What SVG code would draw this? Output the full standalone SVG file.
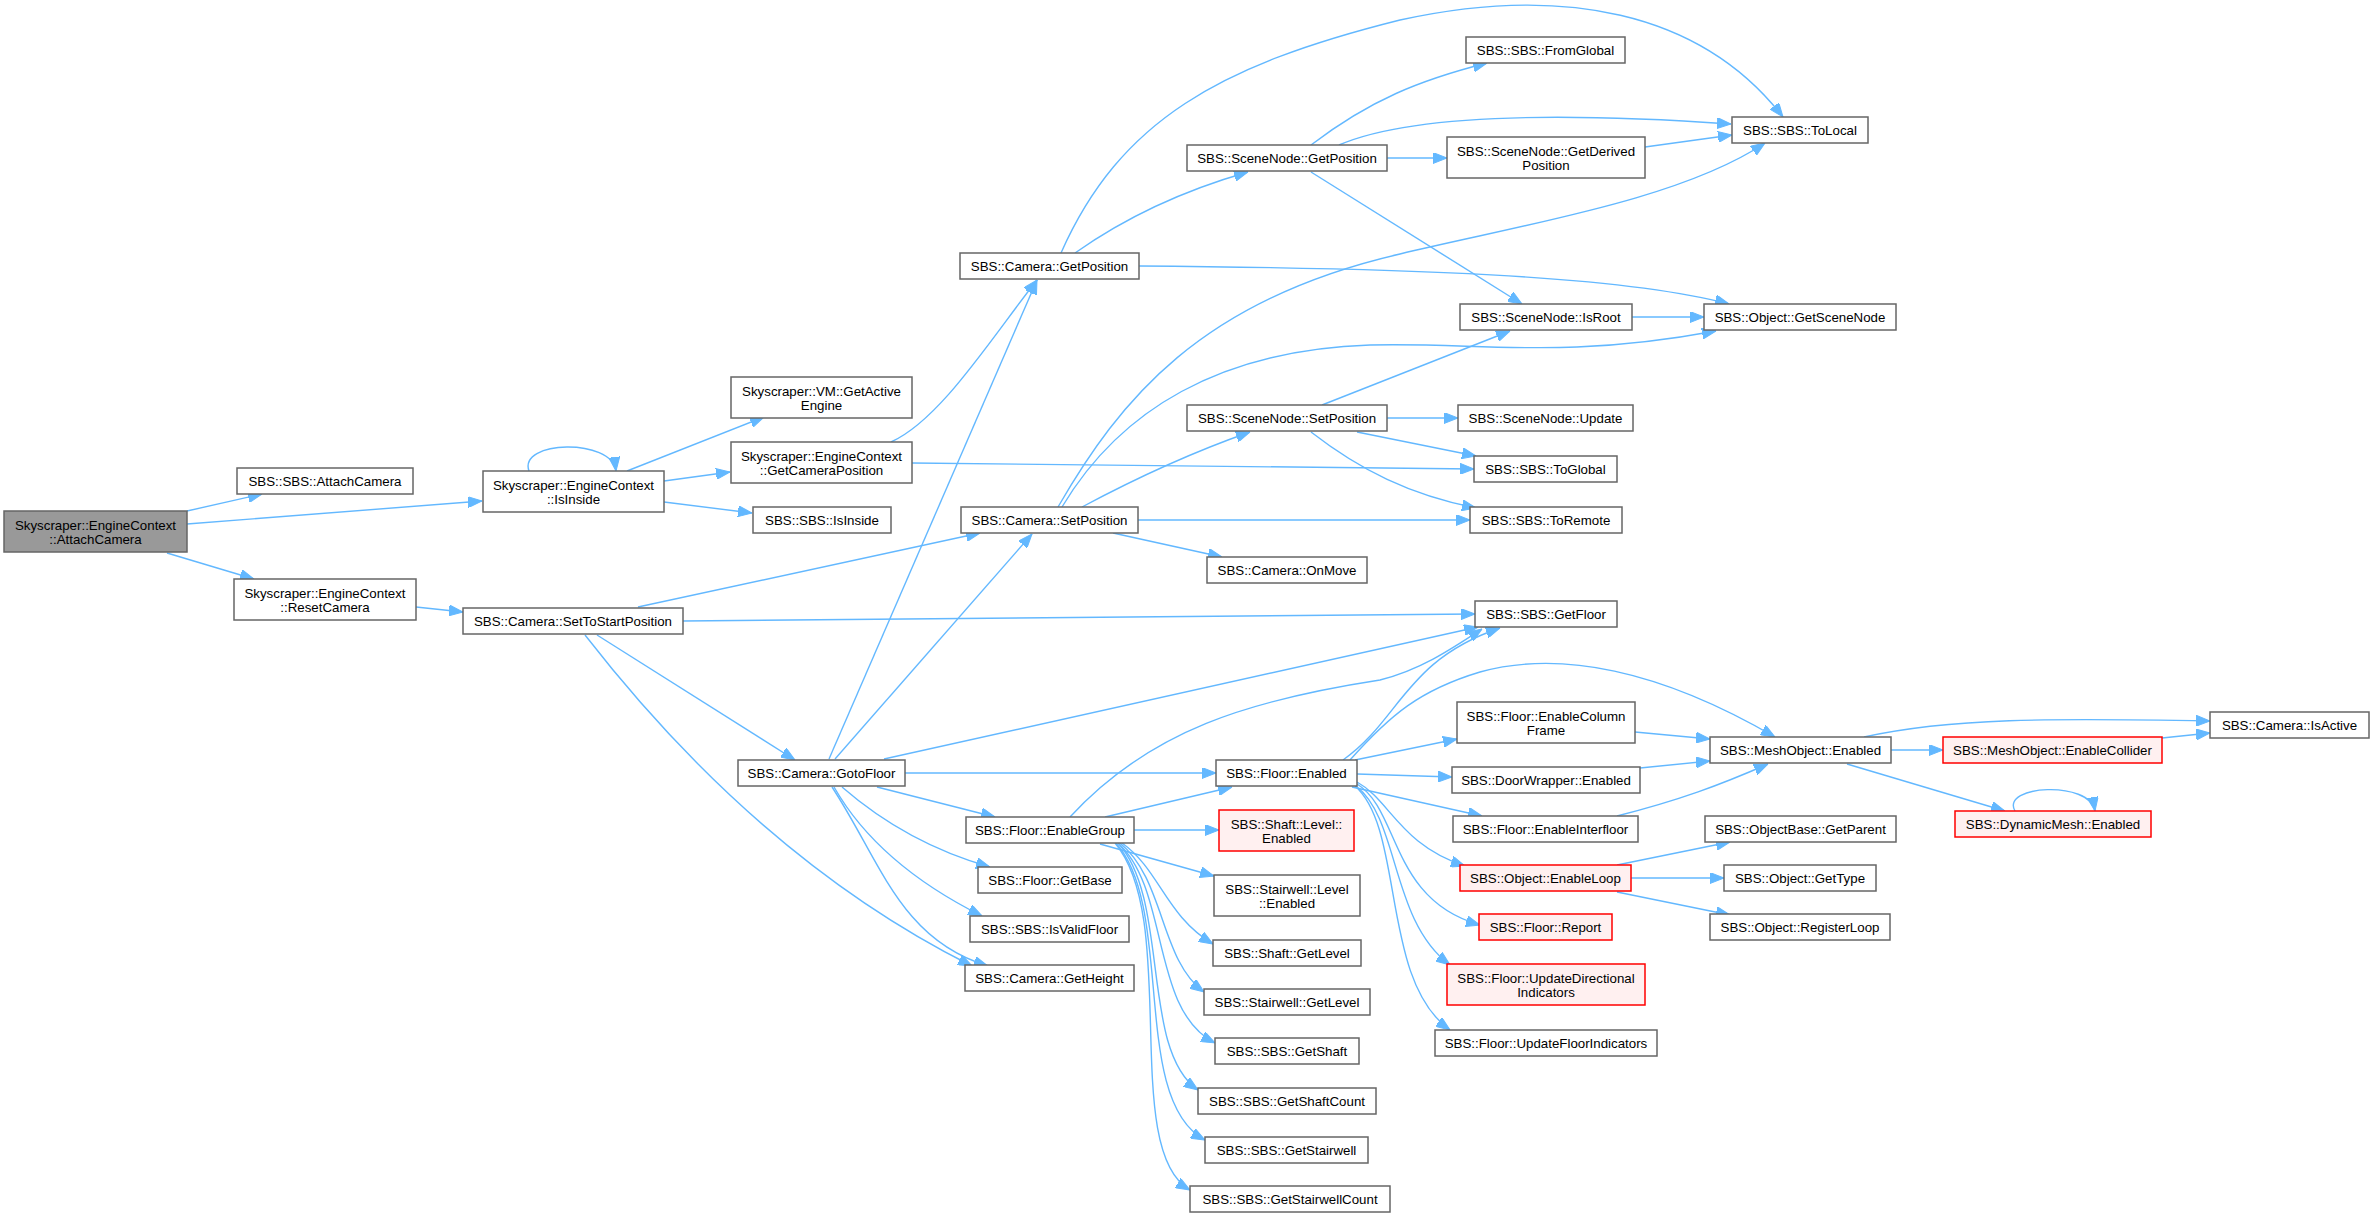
<svg xmlns="http://www.w3.org/2000/svg" width="2374" height="1218" viewBox="0 0 2374 1218">
<style>
rect{fill:#fff;stroke:#666;stroke-width:1.5}
rect.g{fill:#999}
rect.r{fill:#fff0f0;stroke:#f00}
text{font-family:"Liberation Sans",Arial,sans-serif;font-size:13.3px;fill:#000;text-anchor:middle}
#edges path{fill:none;stroke:#63b8ff;stroke-width:1.4;marker-end:url(#a)}
</style>
<defs>
<marker id="a" markerUnits="userSpaceOnUse" markerWidth="14" markerHeight="11" refX="14" refY="5.5" orient="auto"><path d="M0,0L14,5.5L0,11z" fill="#63b8ff" stroke="#63b8ff"/></marker>
</defs>
<rect x="0" y="0" width="2374" height="1218" style="fill:#fff;stroke:none"/>
<g id="edges">
<path d="M187,511L262,494"/>
<path d="M187,524L482,501"/>
<path d="M167,553L254,579"/>
<path d="M529,471C518,440 612,438 616,471"/>
<path d="M627,471L764,417"/>
<path d="M664,481L730,472"/>
<path d="M664,502L752,513"/>
<path d="M416,607L463,612"/>
<path d="M891,442C940,420 990,340 1037,280"/>
<path d="M912,463L1474,469"/>
<path d="M638,607L980,533"/>
<path d="M683,621L1475,614"/>
<path d="M597,635L795,760"/>
<path d="M585,635Q760,860 972,966"/>
<path d="M1061,253C1120,120 1220,65 1400,20C1560,-15 1700,10 1783,117"/>
<path d="M1075,253Q1150,200 1248,172"/>
<path d="M1139,266C1400,268 1620,275 1729,304"/>
<path d="M1311,145C1370,100 1420,80 1487,63"/>
<path d="M1339,145C1420,110 1600,115 1731,124"/>
<path d="M1387,158L1447,158"/>
<path d="M1311,172L1522,304"/>
<path d="M1645,147L1732,135"/>
<path d="M1632,317L1704,317"/>
<path d="M1058,507C1120,400 1200,300 1400,254C1520,225 1680,200 1765,143"/>
<path d="M1062,507C1120,410 1220,350 1370,345C1480,342 1560,360 1716,331"/>
<path d="M1082,507Q1170,460 1250,432"/>
<path d="M1138,520L1470,520"/>
<path d="M1113,533L1222,557"/>
<path d="M1322,405L1510,331"/>
<path d="M1387,418L1458,418"/>
<path d="M1357,432L1476,456"/>
<path d="M1311,432C1360,470 1410,495 1476,508"/>
<path d="M829,759L1037,280"/>
<path d="M835,759L1032,534"/>
<path d="M884,759L1478,627"/>
<path d="M905,773L1216,773"/>
<path d="M877,787L995,817"/>
<path d="M842,787C880,820 930,850 990,867"/>
<path d="M834,787C870,850 930,890 982,916"/>
<path d="M832,787C880,860 900,940 988,966"/>
<path d="M1070,817C1150,730 1250,700 1380,680C1420,670 1450,650 1482,629"/>
<path d="M1105,817L1232,787"/>
<path d="M1134,830L1219,830"/>
<path d="M1100,844L1214,876"/>
<path d="M1122,843C1160,870 1165,915 1213,944"/>
<path d="M1120,843C1165,880 1160,960 1204,992"/>
<path d="M1118,843C1170,890 1150,1010 1215,1043"/>
<path d="M1118,843C1170,900 1140,1050 1198,1090"/>
<path d="M1116,843C1175,910 1130,1100 1205,1140"/>
<path d="M1115,843C1180,920 1120,1150 1190,1190"/>
<path d="M1343,760C1400,720 1405,660 1500,628"/>
<path d="M1350,760C1390,715 1420,690 1480,672C1560,650 1660,670 1775,737"/>
<path d="M1355,760L1457,739"/>
<path d="M1357,774L1452,777"/>
<path d="M1352,787L1482,816"/>
<path d="M1357,782C1390,800 1400,845 1465,866"/>
<path d="M1357,784C1400,810 1390,900 1480,925"/>
<path d="M1356,786C1400,820 1390,920 1450,965"/>
<path d="M1355,786C1405,830 1380,980 1450,1030"/>
<path d="M1635,732L1710,739"/>
<path d="M1640,768L1710,761"/>
<path d="M1617,816C1680,800 1720,785 1768,764"/>
<path d="M1617,865L1730,842"/>
<path d="M1631,878L1724,878"/>
<path d="M1617,892L1730,915"/>
<path d="M1864,737C1950,718 2050,718 2210,721"/>
<path d="M1891,750L1943,750"/>
<path d="M1847,764L2005,811"/>
<path d="M2162,738L2210,733"/>
<path d="M2015,811C2000,785 2090,780 2095,811"/>
</g>
<g id="n0"><rect class="g" x="4" y="511" width="183" height="41"/><text x="95.5" y="530">Skyscraper::EngineContext</text><text x="95.5" y="544">::AttachCamera</text></g>
<g id="n1"><rect x="237" y="468" width="176" height="26"/><text x="325" y="485.5">SBS::SBS::AttachCamera</text></g>
<g id="n2"><rect x="483" y="471" width="181" height="41"/><text x="573.5" y="490">Skyscraper::EngineContext</text><text x="573.5" y="504">::IsInside</text></g>
<g id="n3"><rect x="234" y="579" width="182" height="41"/><text x="325" y="598">Skyscraper::EngineContext</text><text x="325" y="612">::ResetCamera</text></g>
<g id="n4"><rect x="463" y="608" width="220" height="26"/><text x="573" y="625.5">SBS::Camera::SetToStartPosition</text></g>
<g id="n5"><rect x="731" y="377" width="181" height="41"/><text x="821.5" y="396">Skyscraper::VM::GetActive</text><text x="821.5" y="410">Engine</text></g>
<g id="n6"><rect x="731" y="442" width="181" height="41"/><text x="821.5" y="461">Skyscraper::EngineContext</text><text x="821.5" y="475">::GetCameraPosition</text></g>
<g id="n7"><rect x="753" y="507" width="138" height="26"/><text x="822" y="524.5">SBS::SBS::IsInside</text></g>
<g id="n8"><rect x="960" y="253" width="179" height="26"/><text x="1049.5" y="270.5">SBS::Camera::GetPosition</text></g>
<g id="n9"><rect x="961" y="507" width="177" height="26"/><text x="1049.5" y="524.5">SBS::Camera::SetPosition</text></g>
<g id="n10"><rect x="738" y="760" width="167" height="26"/><text x="821.5" y="777.5">SBS::Camera::GotoFloor</text></g>
<g id="n11"><rect x="1187" y="145" width="200" height="26"/><text x="1287" y="162.5">SBS::SceneNode::GetPosition</text></g>
<g id="n12"><rect x="1187" y="405" width="200" height="26"/><text x="1287" y="422.5">SBS::SceneNode::SetPosition</text></g>
<g id="n13"><rect x="1207" y="557" width="160" height="26"/><text x="1287" y="574.5">SBS::Camera::OnMove</text></g>
<g id="n14"><rect x="966" y="817" width="168" height="26"/><text x="1050" y="834.5">SBS::Floor::EnableGroup</text></g>
<g id="n15"><rect x="978" y="867" width="144" height="26"/><text x="1050" y="884.5">SBS::Floor::GetBase</text></g>
<g id="n16"><rect x="970" y="916" width="159" height="26"/><text x="1049.5" y="933.5">SBS::SBS::IsValidFloor</text></g>
<g id="n17"><rect x="965" y="965" width="169" height="26"/><text x="1049.5" y="982.5">SBS::Camera::GetHeight</text></g>
<g id="n18"><rect x="1216" y="760" width="141" height="26"/><text x="1286.5" y="777.5">SBS::Floor::Enabled</text></g>
<g id="n19"><rect class="r" x="1219" y="810" width="135" height="41"/><text x="1286.5" y="829">SBS::Shaft::Level::</text><text x="1286.5" y="843">Enabled</text></g>
<g id="n20"><rect x="1214" y="875" width="146" height="41"/><text x="1287" y="894">SBS::Stairwell::Level</text><text x="1287" y="908">::Enabled</text></g>
<g id="n21"><rect x="1213" y="940" width="148" height="26"/><text x="1287" y="957.5">SBS::Shaft::GetLevel</text></g>
<g id="n22"><rect x="1204" y="989" width="166" height="26"/><text x="1287" y="1006.5">SBS::Stairwell::GetLevel</text></g>
<g id="n23"><rect x="1215" y="1038" width="144" height="26"/><text x="1287" y="1055.5">SBS::SBS::GetShaft</text></g>
<g id="n24"><rect x="1198" y="1088" width="178" height="26"/><text x="1287" y="1105.5">SBS::SBS::GetShaftCount</text></g>
<g id="n25"><rect x="1205" y="1137" width="163" height="26"/><text x="1286.5" y="1154.5">SBS::SBS::GetStairwell</text></g>
<g id="n26"><rect x="1190" y="1186" width="200" height="26"/><text x="1290" y="1203.5">SBS::SBS::GetStairwellCount</text></g>
<g id="n27"><rect x="1466" y="37" width="159" height="26"/><text x="1545.5" y="54.5">SBS::SBS::FromGlobal</text></g>
<g id="n28"><rect x="1447" y="137" width="198" height="41"/><text x="1546" y="156">SBS::SceneNode::GetDerived</text><text x="1546" y="170">Position</text></g>
<g id="n29"><rect x="1460" y="304" width="172" height="26"/><text x="1546" y="321.5">SBS::SceneNode::IsRoot</text></g>
<g id="n30"><rect x="1458" y="405" width="175" height="26"/><text x="1545.5" y="422.5">SBS::SceneNode::Update</text></g>
<g id="n31"><rect x="1474" y="456" width="143" height="26"/><text x="1545.5" y="473.5">SBS::SBS::ToGlobal</text></g>
<g id="n32"><rect x="1470" y="507" width="152" height="26"/><text x="1546" y="524.5">SBS::SBS::ToRemote</text></g>
<g id="n33"><rect x="1475" y="601" width="142" height="26"/><text x="1546" y="618.5">SBS::SBS::GetFloor</text></g>
<g id="n34"><rect x="1457" y="702" width="178" height="41"/><text x="1546" y="721">SBS::Floor::EnableColumn</text><text x="1546" y="735">Frame</text></g>
<g id="n35"><rect x="1452" y="767" width="188" height="26"/><text x="1546" y="784.5">SBS::DoorWrapper::Enabled</text></g>
<g id="n36"><rect x="1453" y="816" width="185" height="26"/><text x="1545.5" y="833.5">SBS::Floor::EnableInterfloor</text></g>
<g id="n37"><rect class="r" x="1460" y="865" width="171" height="26"/><text x="1545.5" y="882.5">SBS::Object::EnableLoop</text></g>
<g id="n38"><rect class="r" x="1479" y="914" width="133" height="26"/><text x="1545.5" y="931.5">SBS::Floor::Report</text></g>
<g id="n39"><rect class="r" x="1447" y="964" width="198" height="41"/><text x="1546" y="983">SBS::Floor::UpdateDirectional</text><text x="1546" y="997">Indicators</text></g>
<g id="n40"><rect x="1435" y="1030" width="222" height="26"/><text x="1546" y="1047.5">SBS::Floor::UpdateFloorIndicators</text></g>
<g id="n41"><rect x="1732" y="117" width="136" height="26"/><text x="1800" y="134.5">SBS::SBS::ToLocal</text></g>
<g id="n42"><rect x="1704" y="304" width="192" height="26"/><text x="1800" y="321.5">SBS::Object::GetSceneNode</text></g>
<g id="n43"><rect x="1710" y="737" width="181" height="26"/><text x="1800.5" y="754.5">SBS::MeshObject::Enabled</text></g>
<g id="n44"><rect x="1705" y="816" width="191" height="26"/><text x="1800.5" y="833.5">SBS::ObjectBase::GetParent</text></g>
<g id="n45"><rect x="1724" y="865" width="152" height="26"/><text x="1800" y="882.5">SBS::Object::GetType</text></g>
<g id="n46"><rect x="1710" y="914" width="180" height="26"/><text x="1800" y="931.5">SBS::Object::RegisterLoop</text></g>
<g id="n47"><rect x="2210" y="712" width="159" height="26"/><text x="2289.5" y="729.5">SBS::Camera::IsActive</text></g>
<g id="n48"><rect class="r" x="1943" y="737" width="219" height="26"/><text x="2052.5" y="754.5">SBS::MeshObject::EnableCollider</text></g>
<g id="n49"><rect class="r" x="1955" y="811" width="196" height="26"/><text x="2053" y="828.5">SBS::DynamicMesh::Enabled</text></g>
</svg>
